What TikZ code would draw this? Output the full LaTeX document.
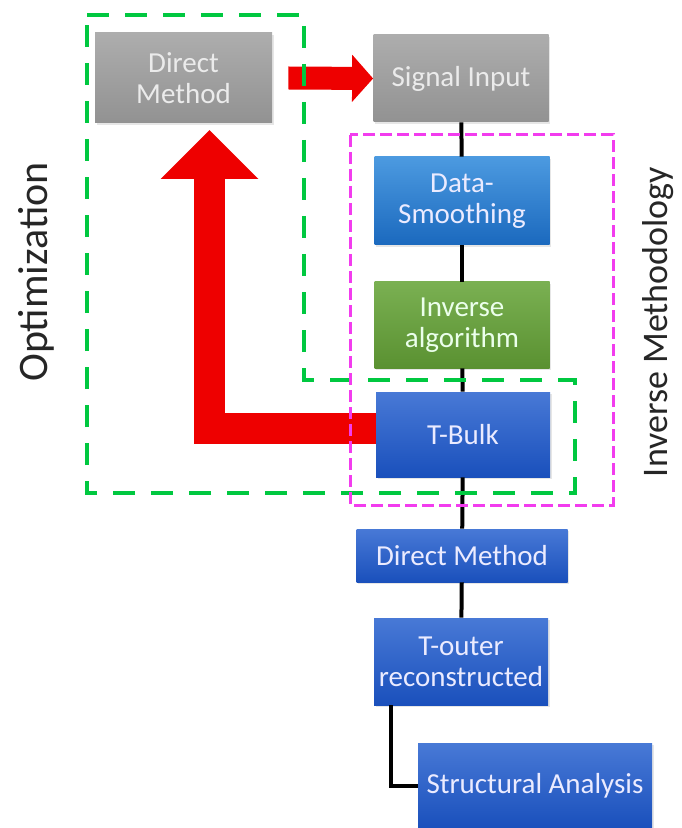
\documentclass[tikz,border=0pt]{standalone}
\usepackage{fontspec}
\setmainfont{Carlito}
\usetikzlibrary{arrows.meta,shadows}
\definecolor{grayTop}{HTML}{ADADAD}
\definecolor{grayBot}{HTML}{929292}
\definecolor{skyTop}{HTML}{4C9AE0}
\definecolor{skyBot}{HTML}{1B69BE}
\definecolor{leafTop}{HTML}{7AB052}
\definecolor{leafBot}{HTML}{5A9131}
\definecolor{navyTop}{HTML}{4879D6}
\definecolor{navyBot}{HTML}{1A50BC}
\definecolor{optGreen}{RGB}{0,200,64}
\definecolor{invPink}{RGB}{242,60,238}
\definecolor{arrRed}{RGB}{238,0,0}
\begin{document}
\begin{tikzpicture}[x=0.5pt,y=-0.5pt,
	box/.style={rectangle,align=center,inner sep=0pt,font=\fontsize{14.5}{15.5}\selectfont,
		drop shadow={opacity=0.2,shadow xshift=0.8pt,shadow yshift=-0.8pt}},
	graybox/.style={box,top color=grayTop,bottom color=grayBot,text=black!8},
	skybox/.style={box,top color=skyTop,bottom color=skyBot,text=white!92!blue},
	leafbox/.style={box,top color=leafTop,bottom color=leafBot,text=white!92!green},
	navybox/.style={box,top color=navyTop,bottom color=navyBot,text=white!92!blue},
	link/.style={line width=2pt,black},
	fatarrow/.style={draw=arrRed,color=arrRed},
	sidelabel/.style={rotate=90,text=black!85}]
	\useasboundingbox (0,0) rectangle (681,828);
	% boxes
	\node[graybox,minimum width=88.5pt,minimum height=45pt] (dmgray) at (183.5,78) {Direct\\Method};
	\node[graybox,minimum width=87.5pt,minimum height=43.5pt] (sig) at (461,78.5) {Signal Input};
	\node[skybox,minimum width=87.5pt,minimum height=44pt] (smooth) at (462,201) {Data-\\Smoothing};
	\node[leafbox,minimum width=87.5pt,minimum height=43pt] (invalg) at (462,325) {Inverse\\algorithm};
	\node[navybox,minimum width=87pt,minimum height=42.5pt] (tbulk) at (463,434.5) {T-Bulk};
	\node[navybox,minimum width=105.5pt,minimum height=26.5pt] (dmblue) at (462,555.5) {Direct Method};
	\node[navybox,minimum width=87pt,minimum height=43.5pt] (touter) at (461,661.5) {T-outer\\reconstructed};
	\node[navybox,minimum width=117pt,minimum height=42.5pt] (struct) at (535,785.5) {Structural Analysis};
	% chain
	\draw[link] (sig) -- (smooth);
	\draw[link] (smooth) -- (invalg);
	\draw[link] (invalg) -- (tbulk);
	\draw[link] (tbulk) -- (dmblue);
	\draw[link] (dmblue) -- (touter);
	\draw[link] ([xshift=8.5pt]touter.south west) |- (struct.west);
	% red arrows
	\coordinate (uptip) at (209.5,130);
	\draw[fatarrow,line width=11.5pt,-{Triangle[length=10.5pt,width=23pt]}] ([xshift=8pt]dmgray.east) -- (sig.west);
	\draw[fatarrow,line width=15.5pt,-{Triangle[length=24.5pt,width=47.5pt]}] ([yshift=3pt]tbulk.west) -| (uptip);
	% frames
	\draw[optGreen,line width=2pt,dash pattern=on 11pt off 8pt] (87,15) -- (304,15) -- (304,380) -- (575,380) -- (575,493) -- (87,493) -- cycle;
	\draw[invPink,line width=1.5pt,dash pattern=on 6pt off 2.5pt] (350,135) rectangle (613,505);
	\node[sidelabel,font=\fontsize{21}{21}\selectfont] (optlbl) at (36,272) {Optimization};
	\node[sidelabel,font=\fontsize{18}{18}\selectfont] (invlbl) at (658,322) {Inverse Methodology};
\end{tikzpicture}
\end{document}
